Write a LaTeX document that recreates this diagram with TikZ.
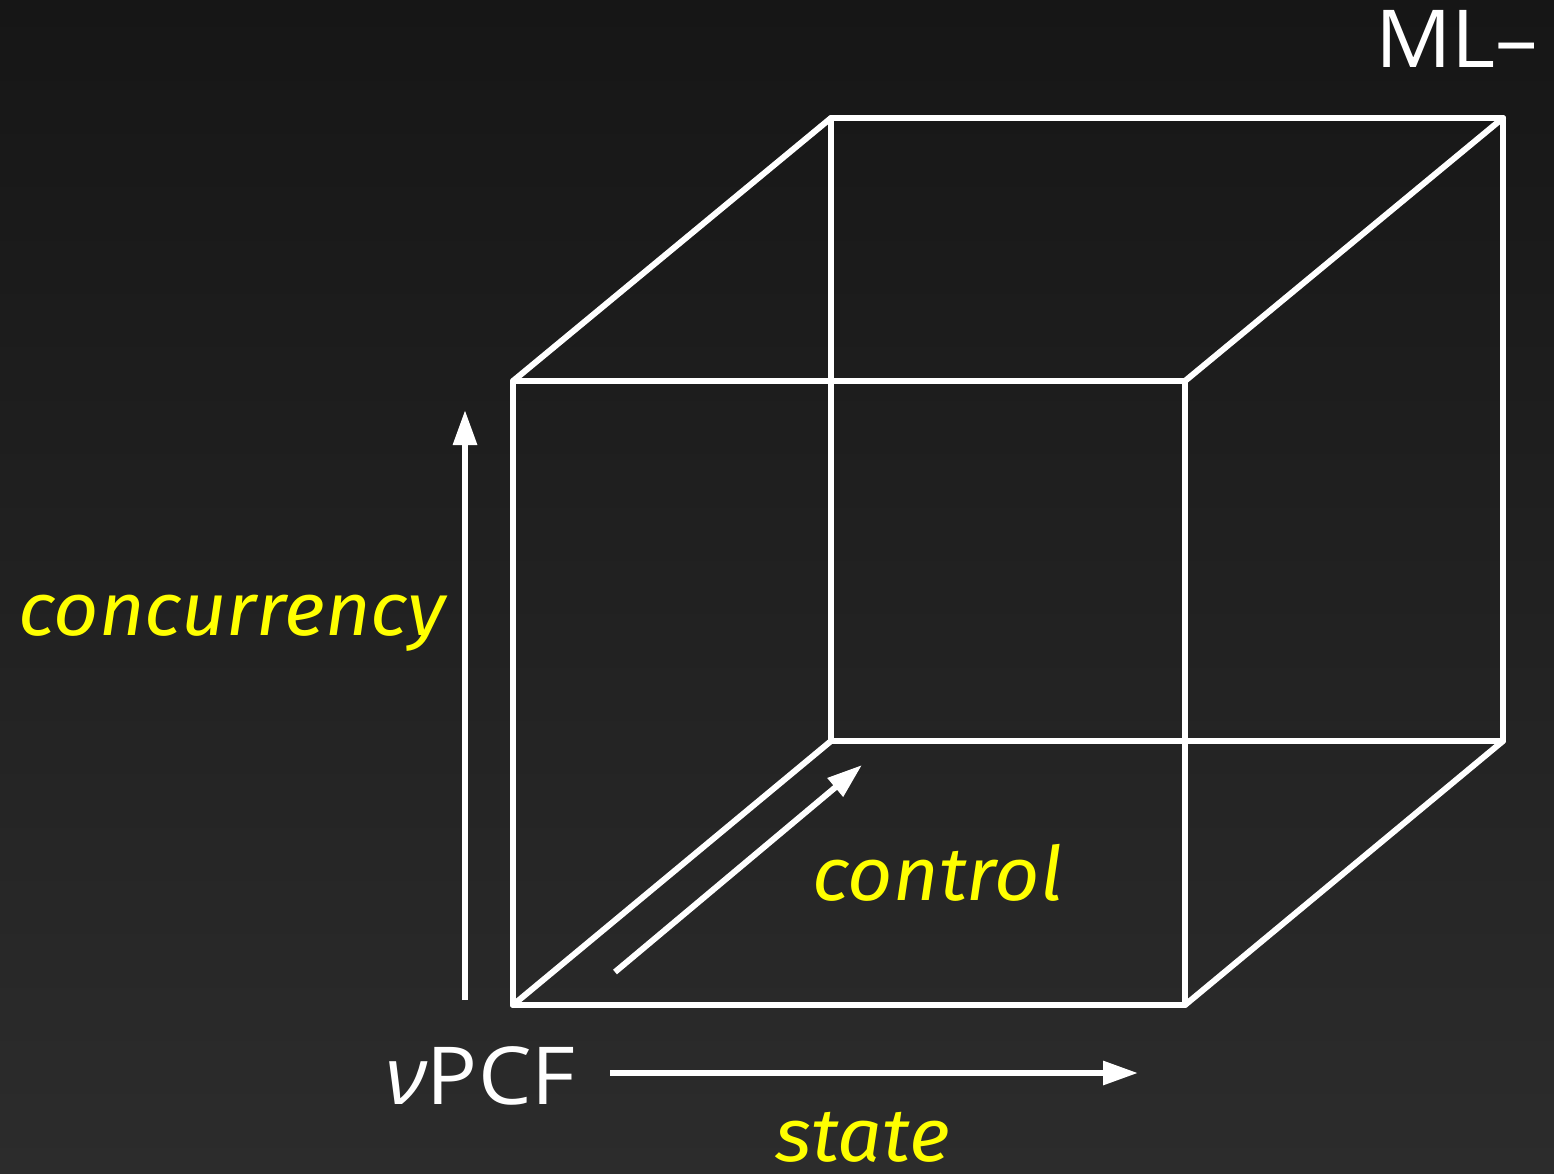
\documentclass[tikz,border=0pt]{standalone}
\usepackage{fontspec}
\setmainfont{Open Sans}
\newfontfamily\termfont{Open Sans}[FakeStretch=1.06]
\newfontfamily\labfont{Fira Sans}[FakeStretch=1.05]
\usetikzlibrary{arrows.meta}
\definecolor{bgtop}{HTML}{161616}
\definecolor{bgbot}{HTML}{2C2C2C}
\definecolor{lbl}{HTML}{FFFF00}
\begin{document}
\begin{tikzpicture}[x=1pt,y=-1pt,
  edge/.style={draw=white, line width=6pt, line join=round, line cap=round},
  axis/.style={draw=white, line width=6pt, -{Triangle[length=35pt,width=23pt]}},
  lab/.style={text=lbl, font=\labfont\fontsize{75}{75}\selectfont\itshape, inner sep=0pt, anchor=base west},
  term/.style={text=white, font=\termfont\fontsize{80}{80}\selectfont, inner sep=0pt, anchor=base west}]
\shade[top color=bgtop, bottom color=bgbot] (0,0) rectangle (1554,1174);
\useasboundingbox (0,0) rectangle (1554,1174);
% front face
\coordinate (ftl) at (513,381);
\coordinate (ftr) at (1185,381);
\coordinate (fbr) at (1185,1005);
\coordinate (fbl) at (513,1005);
% back face
\coordinate (btl) at (831,118);
\coordinate (btr) at (1503,118);
\coordinate (bbr) at (1503,741);
\coordinate (bbl) at (831,741);
\draw[edge] (ftl) -- (ftr) -- (fbr) -- (fbl) -- cycle;
\draw[edge] (btl) -- (btr) -- (bbr) -- (bbl) -- cycle;
\draw[edge] (ftl) -- (btl);
\draw[edge] (ftr) -- (btr);
\draw[edge] (fbr) -- (bbr);
\draw[edge] (fbl) -- (bbl);
% axes
\coordinate (ys) at (465,1000);
\coordinate (ye) at (465,410);
\coordinate (xs) at (610,1073);
\coordinate (xe) at (1138,1073);
\coordinate (zs) at (615,972);
\coordinate (ze) at (862,765);
\draw[axis] (ys) -- (ye);
\draw[axis] (xs) -- (xe);
\draw[axis] (zs) -- (ze);
% labels
\node[lab] (conc) at (18,635) {concurrency};
\node[lab] (ctrl) at (812,900) {control};
\node[lab] (stat) at (775,1161) {state};
\node[term] (npcf) at (385,1104) {{\itshape ν}PCF};
\node[term] (ml) at (1375,68) {ML–};
\end{tikzpicture}
\end{document}
